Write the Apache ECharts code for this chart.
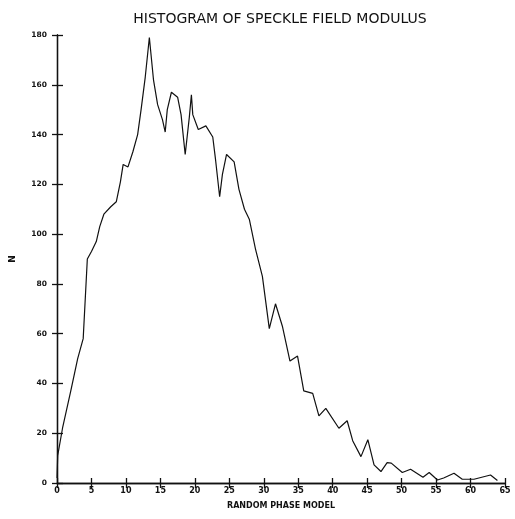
<!DOCTYPE html>
<html>
<head>
<meta charset="utf-8">
<script src="https://cdn.jsdelivr.net/npm/echarts@6/dist/echarts.min.js"></script>
<style>
html,body{margin:0;padding:0;background:#fff;}
#chart{width:515px;height:519px;}
</style>
</head>
<body>
<div id="chart"></div>
<script>
// Data
var titleText = "HISTOGRAM OF SPECKLE FIELD MODULUS";
var xAxisName = "RANDOM PHASE MODEL";
var yAxisName = "N";
var xTicks = [0, 5, 10, 15, 20, 25, 30, 35, 40, 45, 50, 55, 60, 65];
var yTicks = [0, 20, 40, 60, 80, 100, 120, 140, 160, 180];

var modulus = [0, 0.1, 0.8, 2, 3, 3.8, 4.4, 5, 5.7, 6.2, 6.8, 7.8, 8.6, 9.2, 9.6, 10.3, 11, 11.7, 12.2, 12.8, 13.4,
  14.0, 14.6, 15.3, 15.7, 16.0, 16.6, 17.5, 18.0, 18.6, 19.2, 19.5, 19.7, 20.5, 21.6, 22.6, 23.0, 23.6, 24.0, 24.6,
  25.7, 26.4, 27.2, 27.9, 28.8, 29.8, 30.8, 31.7, 32.7, 33.8, 34.9, 35.8, 37.1, 38.0, 39.0, 40.9, 42.1, 42.9,
  44.1, 45.1, 46.0, 47.0, 47.9, 48.5, 50.1, 51.3, 53.1, 54.0, 55.2, 56.1, 57.6, 58.8, 60.5, 62.9, 63.9];
var counts = [2, 11, 22, 37, 50, 58, 90, 93, 97, 103, 108, 111, 113, 121, 128, 127, 133, 140, 150, 163, 179,
  162, 152, 146, 141, 150, 157, 155, 148, 132, 147, 156, 148, 142, 143.5, 139, 130, 115, 124, 132,
  129, 118, 110, 106, 94, 83, 62, 72, 63, 49, 51, 37, 36, 27, 30, 22, 25, 17,
  10.6, 17.4, 7.3, 4.6, 8.2, 8, 4.2, 5.5, 2.3, 4.2, 1.2, 2, 3.9, 1.5, 1.5, 3.2, 1];

var seriesData = modulus.map(function (m, i) { return [m, counts[i]]; });

var chart = echarts.init(document.getElementById('chart'), null, {renderer: 'canvas'});
var fontFam = '"DejaVu Sans", sans-serif';
var axisLineStyle = {color: '#111', width: 1.3};
var option = {
  backgroundColor: '#ffffff',
  animation: false,
  title: {
    text: titleText,
    left: 275,
    textAlign: 'center',
    top: 7,
    textStyle: {fontFamily: fontFam, fontSize: 14, fontWeight: 'normal', color: '#111'}
  },
  grid: {left: 55, right: 10, top: 35, bottom: 36},
  xAxis: [{
    type: 'value', min: xTicks[0], max: xTicks[xTicks.length - 1], interval: xTicks[1] - xTicks[0],
    position: 'bottom',
    name: xAxisName, nameLocation: 'middle', nameGap: 19,
    nameTextStyle: {fontFamily: fontFam, fontSize: 8, fontWeight: 'bold', color: '#111'},
    axisLine: {show: true, lineStyle: axisLineStyle},
    axisTick: {show: true, inside: true, length: 5, lineStyle: axisLineStyle},
    axisLabel: {fontFamily: fontFam, fontSize: 8, fontWeight: 'bold', color: '#111', margin: 4},
    splitLine: {show: false}
  }, {
    type: 'value', min: xTicks[0], max: xTicks[xTicks.length - 1], interval: xTicks[1] - xTicks[0],
    position: 'top',
    axisLine: {show: true, lineStyle: axisLineStyle},
    axisTick: {show: true, inside: true, length: 5, lineStyle: axisLineStyle},
    axisLabel: {show: false},
    splitLine: {show: false}
  }],
  yAxis: [{
    type: 'value', min: yTicks[0], max: yTicks[yTicks.length - 1], interval: yTicks[1] - yTicks[0],
    position: 'left',
    name: yAxisName, nameLocation: 'middle', nameGap: 40, nameRotate: 90,
    nameTextStyle: {fontFamily: fontFam, fontSize: 9, fontWeight: 'bold', color: '#111'},
    axisLine: {show: true, lineStyle: axisLineStyle},
    axisTick: {show: true, inside: true, length: 6, lineStyle: axisLineStyle},
    axisLabel: {fontFamily: fontFam, fontSize: 7.5, fontWeight: 'bold', color: '#111', margin: 10},
    splitLine: {show: false}
  }, {
    type: 'value', min: yTicks[0], max: yTicks[yTicks.length - 1], interval: yTicks[1] - yTicks[0],
    position: 'right',
    axisLine: {show: true, lineStyle: axisLineStyle},
    axisTick: {show: true, inside: true, length: 5, lineStyle: axisLineStyle},
    axisLabel: {show: false},
    splitLine: {show: false}
  }],
  series: [{
    type: 'line',
    xAxisIndex: 0,
    yAxisIndex: 0,
    data: seriesData,
    showSymbol: false,
    symbol: 'none',
    lineStyle: {color: '#111', width: 1.2},
    silent: true
  }]
};
chart.setOption(option);
</script>
</body>
</html>
